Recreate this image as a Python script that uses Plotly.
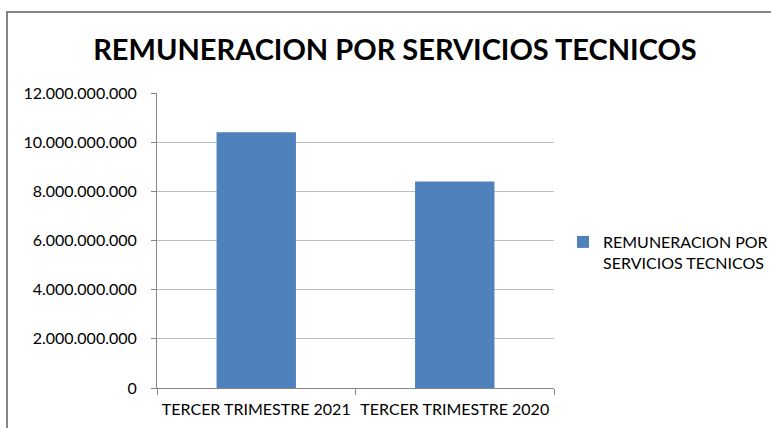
import plotly.graph_objects as go

categories = ["TERCER TRIMESTRE 2021", "TERCER TRIMESTRE 2020"]
values = [10400000000, 8400000000]
series_name = "REMUNERACION POR<br>SERVICIOS TECNICOS"
title_text = "REMUNERACION POR SERVICIOS TECNICOS"
y_ticks = [0, 2000000000, 4000000000, 6000000000, 8000000000, 10000000000, 12000000000]

W, H = 771, 428
L, R, T, B = 157, 217, 93, 40
pw, ph = W - L - R, H - T - B

def px_x(x):
    return (x - L) / pw

def px_y(y):
    return (H - B - y) / ph

fig = go.Figure()
fig.add_trace(go.Bar(
    x=categories, y=values, name=series_name,
    marker=dict(color="#4f81bd", line=dict(color="#4f81bd", width=0)),
    width=0.4, showlegend=True,
))

fig.update_layout(
    width=W, height=H,
    margin=dict(l=L, r=R, t=T, b=B, autoexpand=False),
    paper_bgcolor="white", plot_bgcolor="white",
    separators=",.",
    font=dict(family="Lato, Calibri, sans-serif", size=16, color="#000000"),
    title=dict(text="<b>" + title_text + "</b>", x=395 / W, xref="container",
               xanchor="center", y=1 - 50 / H, yref="container", yanchor="middle",
               font=dict(size=29, family="Lato, sans-serif", color="#000000")),
    showlegend=True,
    legend=dict(x=563 / W, y=1 - 225 / H, xref="container", yref="container",
                xanchor="left", yanchor="top", valign="top",
                font=dict(size=16), itemwidth=30, tracegroupgap=0,
                bgcolor="rgba(0,0,0,0)"),
)

fig.update_xaxes(
    type="category", showline=True, linecolor="#868686", linewidth=1,
    ticks="outside", tickson="boundaries", ticklen=6, tickcolor="#868686",
    showgrid=False, tickfont=dict(size=16), automargin=False,
    ticklabelstandoff=7,
)
fig.update_yaxes(
    range=[0, 12000000000], tickvals=y_ticks, tickformat=",d",
    showline=True, linecolor="#868686", linewidth=1,
    ticks="outside", ticklen=5, tickcolor="#868686",
    showgrid=True, gridcolor="#bfbfbf", gridwidth=1,
    tickfont=dict(size=16), zeroline=False, automargin=False,
    ticklabelstandoff=11,
)

fig.add_shape(type="rect", xref="paper", yref="paper",
              x0=px_x(7), x1=px_x(790), y0=px_y(440), y1=px_y(12),
              line=dict(color="#868686", width=2), fillcolor="rgba(0,0,0,0)",
              layer="below")

fig.write_html("out.html", config={"displayModeBar": False},
               post_script="document.body.style.margin='0px';")
